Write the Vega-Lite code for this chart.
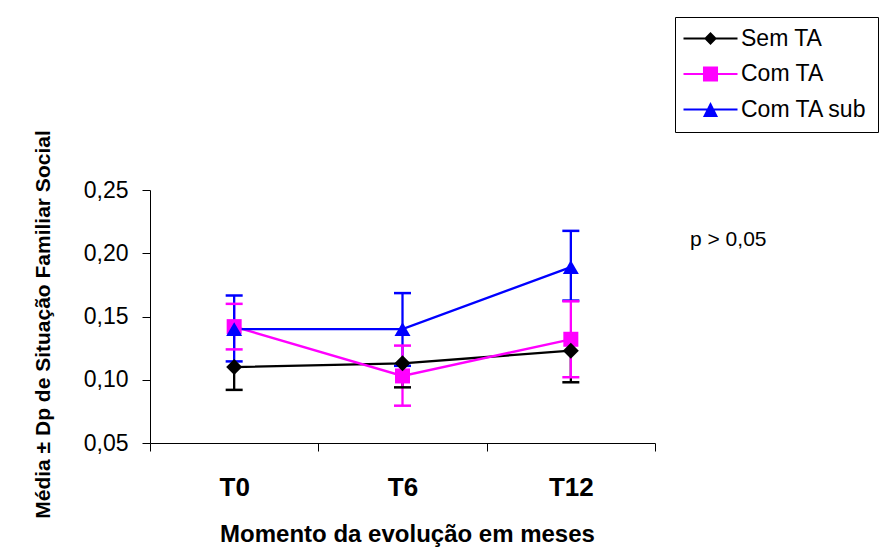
{
  "$schema": "https://vega.github.io/schema/vega-lite/v6.json",
  "width": 505,
  "height": 253,
  "autosize": {"type": "none"},
  "padding": {"left": 150, "top": 190, "right": 230, "bottom": 111},
  "background": "white",
  "config": {
    "view": {"stroke": null},
    "font": "Liberation Sans",
    "axisX": {
      "labelAngle": 0, "labelFont": "Liberation Sans", "labelFontSize": 26, "labelFontWeight": "bold", "labelColor": "black",
      "labelBaseline": "alphabetic", "labelPadding": 44, "tickBand": "extent", "tickSize": 8, "tickColor": "black", "domainColor": "black", "grid": false,
      "titleFont": "Liberation Sans", "titleFontSize": 24, "titleFontWeight": "bold", "titleColor": "black", "titleY": 98, "titleX": 257, "titleBaseline": "alphabetic"
    },
    "axisY": {
      "labelFont": "Liberation Sans", "labelFontSize": 23, "labelColor": "black", "labelPadding": 14, "tickSize": 8, "tickColor": "black", "domainColor": "black", "grid": false,
      "titleFont": "Liberation Sans", "titleFontSize": 21, "titleFontWeight": "bold", "titleColor": "black", "titleX": -101, "titleY": 134, "titleBaseline": "alphabetic", "titleAlign": "center"
    },
    "legend": {
      "orient": "none", "legendX": 525, "legendY": -173,
      "strokeColor": "black", "strokeWidth": 1, "fillColor": "white", "padding": 10, "rowPadding": 11.5,
      "labelFont": "Liberation Sans", "labelFontSize": 23, "labelColor": "black",
      "symbolSize": 256, "symbolStrokeWidth": 0, "symbolOffset": 14, "labelOffset": 19, "symbolOpacity": 1
    }
  },
  "title": {"text": "p > 0,05", "anchor": "start", "frame": "group", "orient": "top", "offset": 0, "baseline": "alphabetic", "dx": 540, "dy": 250, "fontSize": 21, "fontWeight": "normal", "font": "Liberation Sans", "color": "black"},
  "data": {"values": [
    {"series": "Sem TA", "t": "T0", "mean": 0.110, "lo": 0.092, "hi": null},
    {"series": "Sem TA", "t": "T6", "mean": 0.113, "lo": 0.094, "hi": null},
    {"series": "Sem TA", "t": "T12", "mean": 0.123, "lo": 0.098, "hi": null},
    {"series": "Com TA", "t": "T0", "mean": 0.142, "lo": 0.124, "hi": 0.160},
    {"series": "Com TA", "t": "T6", "mean": 0.103, "lo": 0.0795, "hi": 0.127},
    {"series": "Com TA", "t": "T12", "mean": 0.132, "lo": 0.102, "hi": 0.162},
    {"series": "Com TA sub", "t": "T0", "mean": 0.140, "lo": 0.1145, "hi": 0.1666},
    {"series": "Com TA sub", "t": "T6", "mean": 0.140, "lo": 0.111, "hi": 0.1685},
    {"series": "Com TA sub", "t": "T12", "mean": 0.189, "lo": 0.1626, "hi": 0.2177}
  ]},
  "encoding": {
    "x": {
      "field": "t", "type": "nominal", "sort": ["T0", "T6", "T12"],
      "scale": {"paddingInner": 0, "paddingOuter": 0},
      "title": "Momento da evolução em meses"
    },
    "color": {
      "field": "series", "type": "nominal", "title": null,
      "scale": {"domain": ["Sem TA", "Com TA", "Com TA sub"], "range": ["#000000", "#FF00FF", "#0000FF"]}
    }
  },
  "layer": [
    {
      "mark": {"type": "point", "filled": true, "opacity": 0},
      "encoding": {
        "y": {"field": "mean", "type": "quantitative", "title": "Média ± Dp de Situação Familiar Social",
          "scale": {"domain": [0.05, 0.25], "nice": false, "zero": false},
          "axis": {"values": [0.05, 0.1, 0.15, 0.2, 0.25], "labelExpr": "replace(format(datum.value, '.2f'), '.', ',')"}
        },
        "shape": {
          "field": "series", "type": "nominal", "title": null,
          "scale": {
            "domain": ["Sem TA", "Com TA", "Com TA sub"],
            "range": [
              "M-3.375,-0.14H3.375V0.14H-3.375ZM0,-0.8L0.8,0L0,0.8L-0.8,0Z",
              "M-3.375,-0.14H3.375V0.14H-3.375ZM-0.94,-0.94H0.94V0.94H-0.94Z",
              "M-3.375,-0.14H3.375V0.14H-3.375ZM0,-0.94L0.94,0.94H-0.94Z"
            ]
          }
        }
      }
    },
    {
      "mark": {"type": "rule", "strokeWidth": 2.3},
      "encoding": {
        "y": {"field": "lo", "type": "quantitative", "title": "Média ± Dp de Situação Familiar Social"},
        "y2": {"field": "mean"}
      }
    },
    {
      "transform": [{"filter": "datum.hi != null"}],
      "mark": {"type": "rule", "strokeWidth": 2.3},
      "encoding": {
        "y": {"field": "mean", "type": "quantitative", "title": "Média ± Dp de Situação Familiar Social"},
        "y2": {"field": "hi"}
      }
    },
    {
      "mark": {"type": "tick", "size": 17, "thickness": 2.5, "opacity": 1},
      "encoding": {
        "y": {"field": "lo", "type": "quantitative", "title": "Média ± Dp de Situação Familiar Social"}
      }
    },
    {
      "transform": [{"filter": "datum.hi != null"}],
      "mark": {"type": "tick", "size": 17, "thickness": 2.5, "opacity": 1},
      "encoding": {
        "y": {"field": "hi", "type": "quantitative", "title": "Média ± Dp de Situação Familiar Social"}
      }
    },
    {
      "mark": {"type": "line", "strokeWidth": 2.3},
      "encoding": {
        "y": {"field": "mean", "type": "quantitative", "title": "Média ± Dp de Situação Familiar Social"}
      }
    },
    {
      "transform": [{"filter": "datum.series == 'Com TA'"}],
      "mark": {"type": "point", "filled": true, "opacity": 1, "shape": "square", "size": 225},
      "encoding": {
        "y": {"field": "mean", "type": "quantitative", "title": "Média ± Dp de Situação Familiar Social"}
      }
    },
    {
      "transform": [{"filter": "datum.series == 'Com TA sub'"}],
      "mark": {"type": "point", "filled": true, "opacity": 1, "shape": "triangle-up", "size": 256},
      "encoding": {
        "y": {"field": "mean", "type": "quantitative", "title": "Média ± Dp de Situação Familiar Social"}
      }
    },
    {
      "transform": [{"filter": "datum.series == 'Sem TA'"}],
      "mark": {"type": "point", "filled": true, "opacity": 1, "shape": "diamond", "size": 256},
      "encoding": {
        "y": {"field": "mean", "type": "quantitative", "title": "Média ± Dp de Situação Familiar Social"}
      }
    }
  ]
}
